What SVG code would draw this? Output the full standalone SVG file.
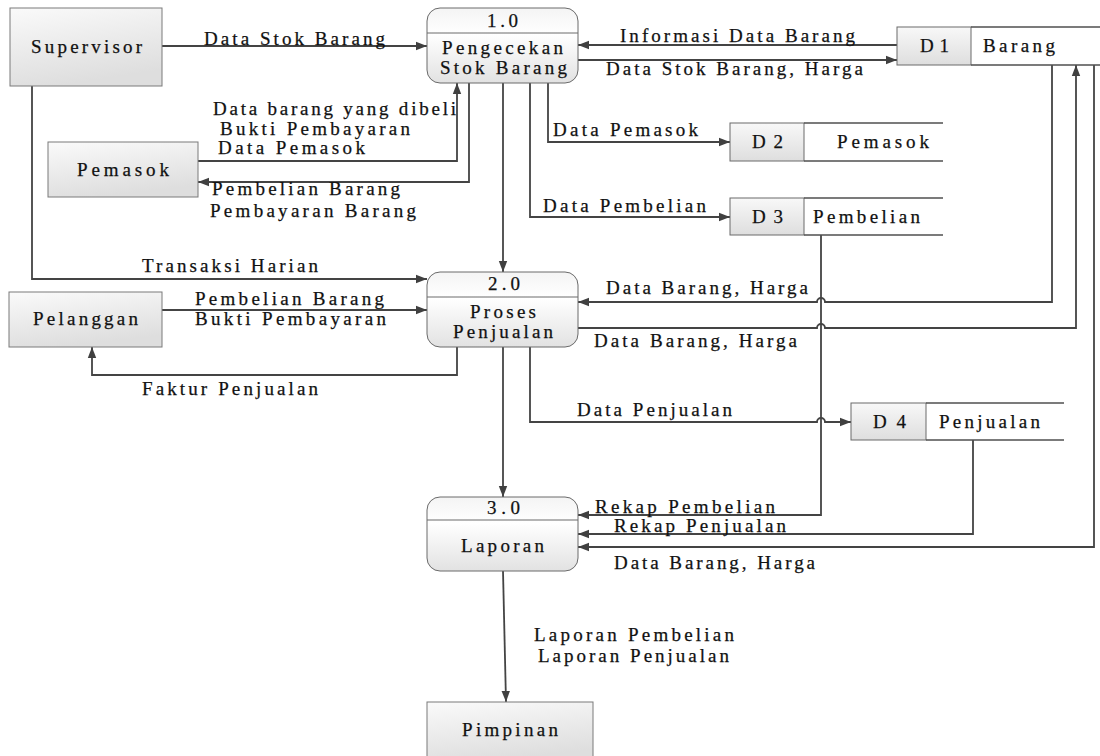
<svg xmlns="http://www.w3.org/2000/svg" width="1100" height="756" viewBox="0 0 1100 756" font-family="'Liberation Serif', 'Times New Roman', Times, 'DejaVu Serif', serif">
<defs>
<linearGradient id="gEnt" x1="0" y1="0" x2="0.3" y2="1">
<stop offset="0" stop-color="#fafafa"/><stop offset="1" stop-color="#dedede"/>
</linearGradient>
<linearGradient id="gProc" x1="0" y1="0" x2="0" y2="1">
<stop offset="0" stop-color="#f4f4f4"/><stop offset="0.35" stop-color="#ffffff"/><stop offset="1" stop-color="#e2e2e2"/>
</linearGradient>
<linearGradient id="gCell" x1="0" y1="0" x2="0" y2="1">
<stop offset="0" stop-color="#f8f8f8"/><stop offset="1" stop-color="#dedede"/>
</linearGradient>
<marker id="arr" markerUnits="userSpaceOnUse" markerWidth="12" markerHeight="10" refX="11" refY="5" orient="auto">
<path d="M0,0.8 L11,5 L0,9.2 Z" fill="#404040"/>
</marker>
</defs>
<style>
text{font-family:"Liberation Serif","Times New Roman",Times,"DejaVu Serif",serif;font-size:19px;fill:#111;stroke:#111;stroke-width:0.25}
.ent{fill:url(#gEnt);stroke:#7a7a7a;stroke-width:1}
.proc{fill:url(#gProc);stroke:#6a6a6a;stroke-width:1}
.div{stroke:#6a6a6a;stroke-width:1}
.cell{fill:url(#gCell);stroke:#6a6a6a;stroke-width:1}
.sl{stroke:#505050;stroke-width:1.3;fill:none}
.c{fill:none;stroke:#444;stroke-width:1.8}
.a{marker-end:url(#arr)}
</style>

<g id="connectors">
<path class="c a" d="M162 46 H427"/>
<path class="c a" d="M897 45 H578"/>
<path class="c a" d="M578 60 H897"/>
<path class="c a" d="M198 161 H457 V83"/>
<path class="c a" d="M469 83 V182 H198"/>
<path class="c a" d="M548 83 V142 H730"/>
<path class="c a" d="M530 83 V217 H730"/>
<path class="c a" d="M503 83 V272"/>
<path class="c a" d="M32 86 V279 H427"/>
<path class="c a" d="M162 310 H427"/>
<path class="c a" d="M457 347 V375 H92 V347"/>
<path class="c a" d="M1052 65 V302 H825 A4 4 0 0 0 817 302 H578"/>
<path class="c a" d="M578 328 H817 A4 4 0 0 1 825 328 H1076 V65"/>
<path class="c a" d="M530 347 V422 H817 A4 4 0 0 1 825 422 H851"/>
<path class="c a" d="M503 347 V497"/>
<path class="c a" d="M821 235 V515 H578"/>
<path class="c a" d="M973 440 V534 H578"/>
<path class="c a" d="M1094 65 V547 H578"/>
<path class="c a" d="M503 571 L506 702"/>
</g>

<g id="labels">
<text x="204" y="45" textLength="181" lengthAdjust="spacing">Data Stok Barang</text>
<text x="620" y="42" textLength="235" lengthAdjust="spacing">Informasi Data Barang</text>
<text x="606" y="75" textLength="257" lengthAdjust="spacing">Data Stok Barang, Harga</text>
<text x="213" y="115" textLength="243" lengthAdjust="spacing">Data barang yang dibeli</text>
<text x="220" y="135" textLength="190" lengthAdjust="spacing">Bukti Pembayaran</text>
<text x="218" y="154" textLength="147" lengthAdjust="spacing">Data Pemasok</text>
<text x="212" y="195" textLength="188" lengthAdjust="spacing">Pembelian Barang</text>
<text x="210" y="217" textLength="206" lengthAdjust="spacing">Pembayaran Barang</text>
<text x="553" y="136" textLength="145" lengthAdjust="spacing">Data Pemasok</text>
<text x="543" y="212" textLength="163" lengthAdjust="spacing">Data Pembelian</text>
<text x="142" y="272" textLength="176" lengthAdjust="spacing">Transaksi Harian</text>
<text x="195" y="305" textLength="189" lengthAdjust="spacing">Pembelian Barang</text>
<text x="195" y="325" textLength="191" lengthAdjust="spacing">Bukti Pembayaran</text>
<text x="142" y="395" textLength="176" lengthAdjust="spacing">Faktur Penjualan</text>
<text x="606" y="294" textLength="202" lengthAdjust="spacing">Data Barang, Harga</text>
<text x="594" y="347" textLength="203" lengthAdjust="spacing">Data Barang, Harga</text>
<text x="577" y="416" textLength="155" lengthAdjust="spacing">Data Penjualan</text>
<text x="595" y="513" textLength="180" lengthAdjust="spacing">Rekap Pembelian</text>
<text x="614" y="532" textLength="172" lengthAdjust="spacing">Rekap Penjualan</text>
<text x="614" y="569" textLength="201" lengthAdjust="spacing">Data Barang, Harga</text>
<text x="534" y="641" textLength="200" lengthAdjust="spacing">Laporan Pembelian</text>
<text x="538" y="662" textLength="191" lengthAdjust="spacing">Laporan Penjualan</text>
</g>

<g id="supervisor">
<rect class="ent" x="10" y="8" width="152" height="78"/>
<text x="31" y="53" textLength="111" lengthAdjust="spacing">Supervisor</text>
</g>
<g id="pemasok">
<rect class="ent" x="48" y="142" width="150" height="55"/>
<text x="77" y="176" textLength="92" lengthAdjust="spacing">Pemasok</text>
</g>
<g id="pelanggan">
<rect class="ent" x="9" y="292" width="153" height="55"/>
<text x="33" y="325" textLength="105" lengthAdjust="spacing">Pelanggan</text>
</g>
<g id="pimpinan">
<rect class="ent" x="427" y="702" width="166" height="60"/>
<text x="462" y="736" textLength="96" lengthAdjust="spacing">Pimpinan</text>
</g>

<g id="p1">
<rect class="proc" x="427" y="8" width="151" height="75" rx="13"/>
<line class="div" x1="427" y1="33" x2="578" y2="33"/>
<text x="487" y="27" textLength="31" lengthAdjust="spacing">1.0</text>
<text x="442" y="54" textLength="121" lengthAdjust="spacing">Pengecekan</text>
<text x="440" y="74" textLength="127" lengthAdjust="spacing">Stok Barang</text>
</g>
<g id="p2">
<rect class="proc" x="427" y="272" width="151" height="75" rx="13"/>
<line class="div" x1="427" y1="297" x2="578" y2="297"/>
<text x="488" y="290" textLength="32" lengthAdjust="spacing">2.0</text>
<text x="470" y="318" textLength="66" lengthAdjust="spacing">Proses</text>
<text x="453" y="338" textLength="100" lengthAdjust="spacing">Penjualan</text>
</g>
<g id="p3">
<rect class="proc" x="427" y="497" width="151" height="74" rx="13"/>
<line class="div" x1="427" y1="520" x2="578" y2="520"/>
<text x="487" y="514" textLength="33" lengthAdjust="spacing">3.0</text>
<text x="461" y="552" textLength="83" lengthAdjust="spacing">Laporan</text>
</g>

<g id="d1">
<rect class="cell" x="897" y="27" width="74" height="38"/>
<path class="sl" d="M971 27 H1100 M971 65 H1100"/>
<text x="920" y="52" textLength="29" lengthAdjust="spacing">D1</text>
<text x="983" y="52" textLength="72" lengthAdjust="spacing">Barang</text>
</g>
<g id="d2">
<rect class="cell" x="730" y="123" width="74" height="38"/>
<path class="sl" d="M804 123 H943 M804 161 H943"/>
<text x="752" y="148" textLength="31" lengthAdjust="spacing">D2</text>
<text x="837" y="148" textLength="92" lengthAdjust="spacing">Pemasok</text>
</g>
<g id="d3">
<rect class="cell" x="730" y="198" width="74" height="37"/>
<path class="sl" d="M804 198 H943 M804 235 H943"/>
<text x="752" y="223" textLength="31" lengthAdjust="spacing">D3</text>
<text x="813" y="223" textLength="107" lengthAdjust="spacing">Pembelian</text>
</g>
<g id="d4">
<rect class="cell" x="851" y="403" width="75" height="37"/>
<path class="sl" d="M926 403 H1064 M926 440 H1064"/>
<text x="873" y="428" textLength="33" lengthAdjust="spacing">D4</text>
<text x="939" y="428" textLength="101" lengthAdjust="spacing">Penjualan</text>
</g>
</svg>
